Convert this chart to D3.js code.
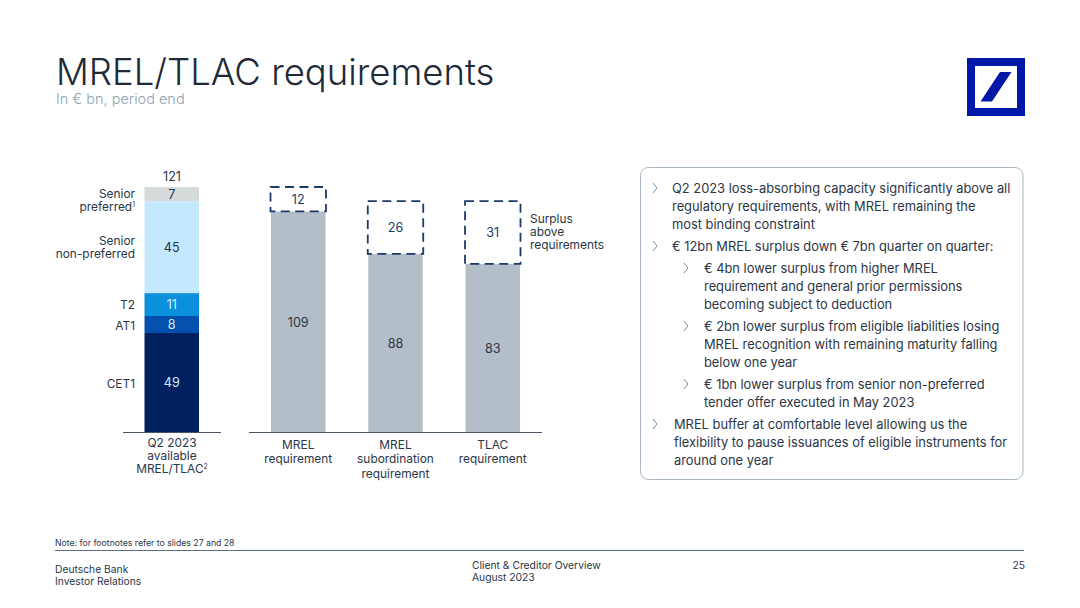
<!DOCTYPE html>
<html>
<head>
<meta charset="UTF-8">
<script src="https://d3js.org/d3.v7.min.js"></script>
<style>
  html, body { margin:0; padding:0; background:#fff; }
  svg { display:block; }
  text { font-family:"Inter","Noto Sans",sans-serif; fill:#2b3646; }
</style>
</head>
<body>
<svg id="canvas"></svg>
<script>
// data (segment heights are a bit finer than the printed labels, which round)
const stackNames = ["CET1", "AT1", "T2", "Senior non-preferred", "Senior preferred"];
const stackValues = [48.9, 8.4, 11.3, 45.4, 7.0];
const stackTotal = 121;
const stackColumn = ["Q2 2023 available MREL/TLAC"];
const reqNames = ["MREL requirement", "MREL subordination requirement", "TLAC requirement"];
const reqValues = [109, 88, 83];
const surplusValues = [12, 26, 31];

const stackLabels = [["CET1"], ["AT1"], ["T2"], ["Senior", "non-preferred"], ["Senior", "preferred"]];
const reqLabels = [["MREL", "requirement"], ["MREL", "subordination", "requirement"], ["TLAC", "requirement"]];

const bullets = [
  { level: 0, lines: ["Q2 2023 loss-absorbing capacity significantly above all", "regulatory requirements, with MREL remaining the", "most binding constraint"], y: 188 },
  { level: 0, lines: ["€ 12bn MREL surplus down € 7bn quarter on quarter:"], y: 246 },
  { level: 1, lines: ["€ 4bn lower surplus from higher MREL", "requirement and general prior permissions", "becoming subject to deduction"], y: 268 },
  { level: 1, lines: ["€ 2bn lower surplus from eligible liabilities losing", "MREL recognition with remaining maturity falling", "below one year"], y: 326 },
  { level: 1, lines: ["€ 1bn lower surplus from senior non-preferred", "tender offer executed in May 2023"], y: 384 },
  { level: 0, lines: ["MREL buffer at comfortable level allowing us the", "flexibility to pause issuances of eligible instruments for", "around one year"], y: 424, dx: 2 }
];

const width = 1080, height = 608;
const stackColors = ["#00205f", "#0550ac", "#0a90dd", "#c4e8fe", "#d5dadb"];
const stackText = ["#d6e8fb", "#d6e8fb", "#d6f0ff", "#24344d", "#24344d"];
const navy = "#1c3a6b";
const labelSize = 11.9, valueSize = 12.6;

const svg = d3.select("#canvas").attr("width", width).attr("height", height);

// title
svg.append("text").attr("x", 56).attr("y", 85).attr("font-size", 36.5).attr("font-weight", 300)
  .style("fill", "#1f2a38").text("MREL/TLAC requirements");
svg.append("text").attr("x", 56).attr("y", 104).attr("font-size", 14.5).attr("font-weight", 300)
  .style("fill", "#8ea2b4").text("In € bn, period end");

// logo
const logo = svg.append("g").attr("transform", "translate(967,58)");
logo.append("rect").attr("x", 4).attr("y", 4).attr("width", 50).attr("height", 50)
  .attr("fill", "none").attr("stroke", "#0018a8").attr("stroke-width", 8);
logo.append("path").attr("d", "M13.5,43.5 L33,14 L44.5,14 L25,43.5 Z").attr("fill", "#0018a8");

// scales
const y = d3.scaleLinear().domain([0, stackTotal]).range([432, 187]);
const xStack = d3.scaleBand().domain(stackColumn).range([144.5, 199]);
const xReq = d3.scaleBand().domain(reqNames).range([271, 520]).paddingInner(0.44);
const fmt = d3.format(".0f");

// stacked column
let cum = 0;
const segs = stackValues.map((v, i) => {
  const s = { i, v, y0: cum, y1: cum + v };
  cum += v;
  return s;
});

const stackG = svg.append("g");
stackG.selectAll("rect").data(segs).enter().append("rect")
  .attr("x", xStack(stackColumn[0]))
  .attr("width", xStack.bandwidth())
  .attr("y", d => y(d.y1))
  .attr("height", d => y(d.y0) - y(d.y1))
  .attr("fill", d => stackColors[d.i]);

stackG.selectAll("text.val").data(segs).enter().append("text")
  .attr("class", "val")
  .attr("x", xStack(stackColumn[0]) + xStack.bandwidth() / 2)
  .attr("y", d => y((d.y0 + d.y1) / 2) + 4.5)
  .attr("text-anchor", "middle").attr("font-size", valueSize)
  .style("fill", d => stackText[d.i])
  .text(d => fmt(d.v));

svg.append("text").attr("x", 172).attr("y", 181).attr("text-anchor", "middle")
  .attr("font-size", valueSize).text(stackTotal);

// names left of the stack
const nameYs = [383, 325, 304, 240, 193];
stackLabels.forEach((ls, i) => {
  const t = svg.append("text").attr("text-anchor", "end").attr("font-size", labelSize);
  ls.forEach((l, j) => {
    t.append("tspan").attr("x", 135).attr("y", nameYs[i] + 4.5 + j * 13.5).text(l);
  });
  if (i === 4) t.append("tspan").attr("font-size", 7).attr("dy", -4.5).text("1");
});

// requirement columns
const reqG = svg.append("g");
reqG.selectAll("rect.req").data(reqNames).enter().append("rect")
  .attr("class", "req")
  .attr("x", d => xReq(d))
  .attr("width", xReq.bandwidth())
  .attr("y", (d, i) => y(reqValues[i]))
  .attr("height", (d, i) => y(0) - y(reqValues[i]))
  .attr("fill", "#b4bec9");

reqG.selectAll("text.req").data(reqNames).enter().append("text")
  .attr("class", "req")
  .attr("x", d => xReq(d) + xReq.bandwidth() / 2)
  .attr("y", (d, i) => y(reqValues[i] / 2) + 5.5)
  .attr("text-anchor", "middle").attr("font-size", valueSize)
  .text((d, i) => reqValues[i]);

// surplus boxes
reqG.selectAll("rect.surplus").data(reqNames).enter().append("rect")
  .attr("class", "surplus")
  .attr("x", d => xReq(d) - 0.5)
  .attr("width", xReq.bandwidth() + 1)
  .attr("y", (d, i) => y(reqValues[i] + surplusValues[i]))
  .attr("height", (d, i) => y(reqValues[i]) - y(reqValues[i] + surplusValues[i]))
  .attr("fill", "#fff")
  .attr("stroke", navy).attr("stroke-width", 1.8).attr("stroke-dasharray", "9,5.5");

reqG.selectAll("text.surplus").data(reqNames).enter().append("text")
  .attr("class", "surplus")
  .attr("x", d => xReq(d) + xReq.bandwidth() / 2)
  .attr("y", (d, i) => y(reqValues[i] + surplusValues[i] / 2) + 4.5)
  .attr("text-anchor", "middle").attr("font-size", valueSize)
  .style("fill", navy)
  .text((d, i) => surplusValues[i]);

// baselines
[[123, 221], [249, 542]].forEach(a => {
  svg.append("line").attr("x1", a[0]).attr("x2", a[1]).attr("y1", 432.5).attr("y2", 432.5)
    .attr("stroke", "#4a5563").attr("stroke-width", 1);
});

// category labels
const stackCat = svg.append("text").attr("text-anchor", "middle").attr("font-size", labelSize);
["Q2 2023", "available", "MREL/TLAC"].forEach((l, j) => {
  stackCat.append("tspan").attr("x", 172).attr("y", 447 + j * 13).text(l);
});
stackCat.append("tspan").attr("font-size", 7).attr("dy", -4.5).text("2");

reqNames.forEach((n, i) => {
  const t = svg.append("text").attr("text-anchor", "middle").attr("font-size", labelSize);
  reqLabels[i].forEach((l, j) => {
    t.append("tspan").attr("x", xReq(n) + xReq.bandwidth() / 2).attr("y", 448.5 + j * 14.5).text(l);
  });
});

const surplusNote = svg.append("text").attr("font-size", labelSize);
["Surplus", "above", "requirements"].forEach((l, j) => {
  surplusNote.append("tspan").attr("x", 530).attr("y", 223 + j * 13).text(l);
});

// text panel
svg.append("rect").attr("x", 640.5).attr("y", 167.5).attr("width", 382.5).attr("height", 312)
  .attr("rx", 8).attr("fill", "#fff").attr("stroke", "#a9b7c5");

bullets.forEach(b => {
  const tx = (b.level === 0 ? 672 : 704) + (b.dx || 0);
  const ax = b.level === 0 ? 653 : 684;
  svg.append("path")
    .attr("d", `M${ax},${b.y - 5} L${ax + 4},${b.y} L${ax},${b.y + 5}`)
    .attr("fill", "none").attr("stroke", "#7a8a9b").attr("stroke-width", 1);
  b.lines.forEach((l, j) => {
    svg.append("text").attr("x", tx).attr("y", b.y + 4.5 + j * 18)
      .attr("font-size", 12.86).text(l);
  });
});

// footer
svg.append("text").attr("x", 55).attr("y", 546).attr("font-size", 8.7).text("Note: for footnotes refer to slides 27 and 28");
svg.append("line").attr("x1", 55).attr("x2", 1024).attr("y1", 550.5).attr("y2", 550.5)
  .attr("stroke", "#5f6f80").attr("stroke-width", 1);
[["Deutsche Bank", 55, 573], ["Investor Relations", 55, 585], ["Client & Creditor Overview", 472, 569], ["August 2023", 472, 581]].forEach(f => {
  svg.append("text").attr("x", f[1]).attr("y", f[2]).attr("font-size", 10.3).text(f[0]);
});
svg.append("text").attr("x", 1025).attr("y", 569).attr("text-anchor", "end").attr("font-size", 10.3).text("25");
</script>
</body>
</html>
